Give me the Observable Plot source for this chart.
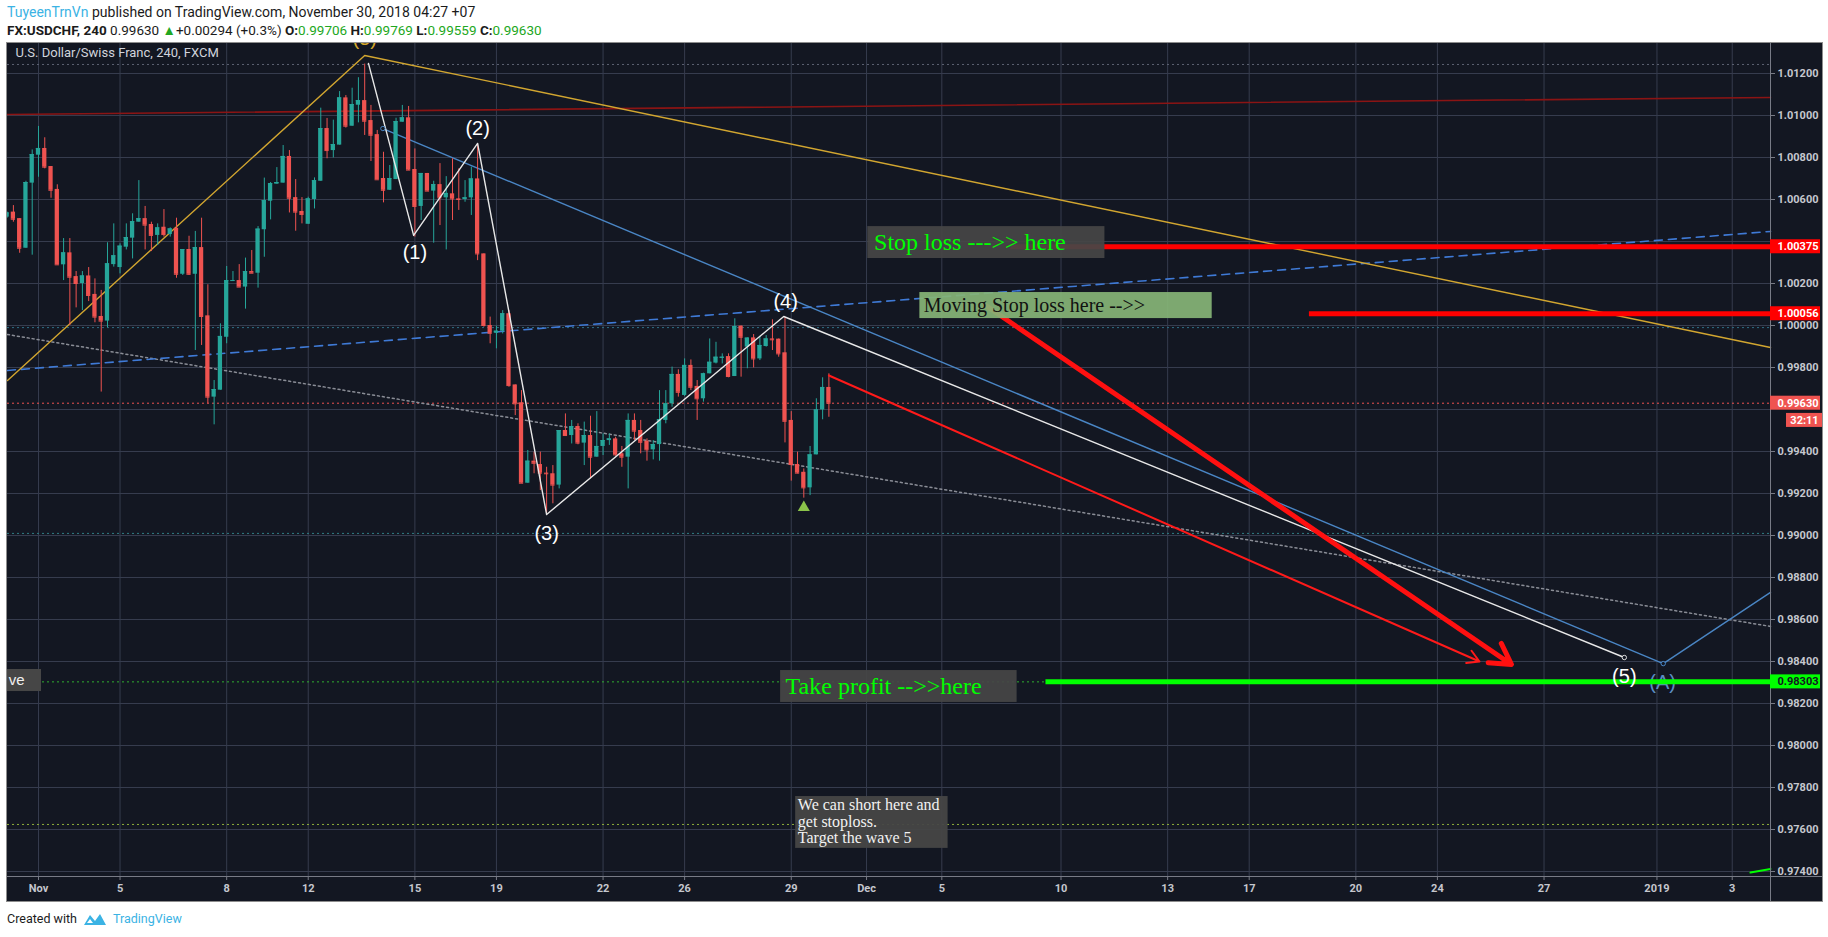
<!DOCTYPE html>
<html><head><meta charset="utf-8">
<script src="https://cdn.jsdelivr.net/npm/d3@7"></script>
<script src="https://cdn.jsdelivr.net/npm/@observablehq/plot@0.6"></script>
<style>
body{margin:0;background:#fff;width:1828px;height:937px;overflow:hidden;position:relative;font-family:Roboto,"Liberation Sans",sans-serif;color:#1b1b1b}
#hdr1{position:absolute;left:7px;top:4px;font-size:14px;white-space:nowrap}
#hdr2{position:absolute;left:7px;top:22px;font-size:13.5px;white-space:nowrap}
#panel{position:absolute;left:6px;top:42px;width:1815px;height:858px;border:1px solid #8d8d8d;background:#131722}
#panel svg{display:block}
#foot{position:absolute;left:7px;top:911px;font-size:12.5px;white-space:nowrap;display:flex;align-items:center;gap:6px}
.g{color:#22a722}
.tv{color:#3bb3e4}
</style></head><body>
<div id="hdr1"></div>
<div id="hdr2"></div>
<div id="panel"></div>
<div id="foot"><span>Created with</span>
<svg width="24" height="14" viewBox="0 0 24 14"><path d="M1 13 L7 3 L12 9 L17 2 L23 13 Z" fill="#3bb3e4"/><path d="M7 7 L10 11 L4 11Z" fill="#fff"/></svg>
<span class="tv">TradingView</span></div>
<script>
// ---------- header values ----------
const author = "TuyeenTrnVn";
const publishedText = " published on TradingView.com, November 30, 2018 04:27 +07";
const symbolText = "FX:USDCHF, 240";
const lastPrice = 0.99630;
const changeText = "+0.00294 (+0.3%)";
const ohlcKeys = ["O", "H", "L", "C"];
const ohlcVals = ["0.99706", "0.99769", "0.99559", "0.99630"];
const chartTitle = "U.S. Dollar/Swiss Franc, 240, FXCM";

// ---------- axis ticks ----------
const xTickIdx = [0, 13, 30, 43, 60, 73, 90, 103, 120, 132, 144, 163, 180, 193, 210, 223, 240, 258, 270];
const xTickLabels = ["Nov", "5", "8", "12", "15", "19", "22", "26", "29", "Dec", "5", "10", "13", "17", "20", "24", "27", "2019", "3"];
const yTicks = [0.974, 0.976, 0.978, 0.980, 0.982, 0.984, 0.986, 0.988, 0.990, 0.992, 0.994, 0.996, 0.998, 1.000, 1.002, 1.004, 1.006, 1.008, 1.010, 1.012];
const yTicksCovered = [1.004, 0.996]; // hidden behind the coloured price labels

// ---------- candles (4h bars, index 0 = Nov 1) ----------
const firstIdx = -5;
const open = [1.00516,1.00540,1.00509,1.00368,1.00678,1.00811,1.00843,1.00757,1.00648,1.00289,1.00346,1.00233,1.00200,1.00236,1.00148,1.00043,1.00021,1.00290,1.00276,1.00373,1.00416,1.00492,1.00509,1.00481,1.00429,1.00468,1.00433,1.00463,1.00244,1.00362,1.00244,1.00371,1.00046,0.99659,0.99692,0.99944,1.00211,1.00214,1.00183,1.00257,1.00249,1.00456,1.00592,1.00673,1.00678,1.00805,1.00609,1.00543,1.00482,1.00600,1.00687,1.00938,1.00833,1.00859,1.01084,1.00949,1.01049,1.01071,1.00976,1.00909,1.00700,1.00644,1.00695,1.00968,1.00989,1.00743,1.00567,1.00724,1.00640,1.00671,1.00608,1.00627,1.00603,1.00600,1.00608,1.00698,1.00341,1.00000,0.99963,0.99973,1.00056,0.99717,0.99632,0.99249,0.99354,0.99338,0.99297,0.99294,0.99240,0.99500,0.99476,0.99519,0.99440,0.99476,0.99373,0.99424,0.99452,0.99460,0.99389,0.99373,0.99548,0.99500,0.99449,0.99408,0.99433,0.99548,0.99627,0.99767,0.99667,0.99810,0.99710,0.99651,0.99770,0.99821,0.99844,0.99852,0.99757,0.99997,0.99897,0.99941,0.99841,0.99900,0.99936,0.99935,0.99870,0.99548,0.99338,0.99301,0.99227,0.99384,0.99598,0.99705];
const high = [1.00540,1.00571,1.00509,1.00687,1.00836,1.00948,1.00894,1.00757,1.00670,1.00414,1.00414,1.00257,1.00257,1.00276,1.00222,1.00167,1.00394,1.00484,1.00389,1.00484,1.00532,1.00690,1.00567,1.00492,1.00484,1.00552,1.00465,1.00511,1.00362,1.00425,1.00448,1.00511,1.00194,0.99738,1.00008,1.00281,1.00257,1.00290,1.00321,1.00357,1.00471,1.00702,1.00681,1.00752,1.00857,1.00833,1.00695,1.00609,1.00611,1.00703,1.01035,1.00986,1.00978,1.01114,1.01095,1.01130,1.01180,1.01245,1.01048,1.00929,1.00825,1.00762,1.00987,1.01048,1.01043,1.00841,1.00724,1.00724,1.00687,1.00771,1.00709,1.00794,1.00746,1.00690,1.00754,1.00865,1.00341,1.00040,0.99997,1.00071,1.00071,0.99717,0.99690,0.99405,0.99397,0.99397,0.99325,0.99333,0.99500,0.99579,0.99548,0.99532,0.99540,0.99568,0.99590,0.99484,0.99484,0.99468,0.99424,0.99579,0.99579,0.99548,0.99460,0.99452,0.99690,0.99690,0.99802,0.99789,0.99841,0.99836,0.99738,0.99773,0.99936,0.99920,0.99865,0.99865,1.00032,0.99998,0.99941,0.99957,0.99948,0.99952,1.00027,0.99936,1.00040,0.99590,0.99397,0.99317,0.99424,0.99651,0.99751,0.99770];
const low = [1.00511,1.00492,1.00344,1.00368,1.00335,1.00706,1.00746,1.00606,1.00289,1.00214,1.00000,1.00084,1.00071,1.00114,1.00013,0.99683,0.99989,1.00278,1.00246,1.00360,1.00317,1.00492,1.00360,1.00352,1.00381,1.00421,1.00421,1.00225,1.00238,1.00238,0.99881,0.99905,0.99627,0.99527,0.99692,0.99913,1.00211,1.00183,1.00078,1.00249,1.00178,1.00325,1.00503,1.00673,1.00678,1.00536,1.00449,1.00484,1.00482,1.00555,1.00687,1.00794,1.00798,1.00859,1.00940,1.00949,1.00965,1.00905,1.00781,1.00694,1.00584,1.00643,1.00695,1.00968,1.00738,1.00421,1.00500,1.00640,1.00392,1.00476,1.00360,1.00500,1.00548,1.00587,1.00524,1.00309,0.99992,0.99913,0.99889,0.99960,0.99706,0.99571,0.99249,0.99249,0.99294,0.99214,0.99103,0.99151,0.99222,0.99476,0.99436,0.99432,0.99333,0.99270,0.99373,0.99381,0.99429,0.99378,0.99325,0.99222,0.99452,0.99389,0.99354,0.99360,0.99354,0.99532,0.99611,0.99659,0.99662,0.99690,0.99548,0.99635,0.99770,0.99817,0.99817,0.99751,0.99757,0.99754,0.99794,0.99798,0.99833,0.99897,0.99881,0.99849,0.99441,0.99259,0.99294,0.99178,0.99190,0.99384,0.99551,0.99563];
const close = [1.00536,1.00506,1.00368,1.00681,1.00814,1.00843,1.00754,1.00644,1.00289,1.00346,1.00230,1.00200,1.00236,1.00143,1.00040,1.00021,1.00294,1.00332,1.00378,1.00419,1.00495,1.00509,1.00478,1.00429,1.00465,1.00433,1.00460,1.00244,1.00362,1.00244,1.00371,1.00043,0.99659,0.99695,0.99948,1.00214,1.00214,1.00183,1.00257,1.00249,1.00459,1.00595,1.00676,1.00681,1.00805,1.00606,1.00540,1.00529,1.00603,1.00690,1.00938,1.00833,1.00862,1.01084,1.00949,1.01052,1.01071,1.00973,1.00906,1.00694,1.00644,1.00700,1.00971,1.00989,1.00740,1.00567,1.00724,1.00640,1.00671,1.00608,1.00629,1.00603,1.00600,1.00608,1.00698,1.00341,1.00000,0.99963,0.99973,1.00056,0.99714,0.99627,0.99249,0.99354,0.99344,0.99297,0.99294,0.99240,0.99500,0.99476,0.99519,0.99440,0.99476,0.99373,0.99424,0.99452,0.99460,0.99384,0.99373,0.99548,0.99497,0.99444,0.99408,0.99433,0.99552,0.99627,0.99767,0.99682,0.99810,0.99706,0.99651,0.99770,0.99825,0.99849,0.99849,0.99757,0.99995,0.99944,0.99940,0.99841,0.99905,0.99936,0.99932,0.99865,0.99544,0.99338,0.99297,0.99227,0.99384,0.99598,0.99705,0.99630];

// ---------- drawings (bar index, price) ----------
const yellowTrend = [{i: -4.94, p: 0.99738}, {i: 52.0, p: 1.01286}, {i: 276.1, p: 0.99895}];
const darkRedTrend = [{i: -4.94, p: 1.01005}, {i: 276.1, p: 1.01086}];
const blueDashed = [{i: -4.94, p: 0.99786}, {i: 276.1, p: 1.00448}];
const grayDotted = [{i: -4.94, p: 0.99957}, {i: 276.1, p: 0.98567}];
const blueChannel = [{i: 54.9, p: 1.00938}, {i: 259.0, p: 0.98390}, {i: 276.1, p: 0.98729}];
const waveLine = [{i: 52.6, p: 1.01248}, {i: 59.8, p: 1.00429}, {i: 70.0, p: 1.00867}, {i: 81.0, p: 0.99100}, {i: 118.8, p: 1.00043}, {i: 252.8, p: 0.98419}];
const hDotted = [
  {p: 1.01243, c: "#5d6272"},
  {p: 0.99990, c: "#2f6f86"},
  {p: 0.99630, c: "#ef5350"},
  {p: 0.99010, c: "#2f7f86"},
  {p: 0.98303, c: "#2fae2f"},
  {p: 0.97624, c: "#8fae3a"}
];
const levels = [
  {p: 1.00375, from: 155.0, c: "#ff0000"},
  {p: 1.00056, from: 202.6, c: "#ff0000"},
  {p: 0.98303, from: 160.6, c: "#00ff00"}
];
const arrowThin = [{i1: 126.0, p1: 0.99762, i2: 229.7, p2: 0.98400}];
const arrowThick = [{i1: 151.0, p1: 1.00095, i2: 234.8, p2: 0.98386}];
const waveLabels = [
  {i: 60.0, p: 1.00348, t: "(1)", c: "#ffffff"},
  {i: 70.0, p: 1.00938, t: "(2)", c: "#ffffff"},
  {i: 81.0, p: 0.99010, t: "(3)", c: "#ffffff"},
  {i: 119.1, p: 1.00114, t: "(4)", c: "#ffffff"},
  {i: 252.8, p: 0.98329, t: "(5)", c: "#ffffff"},
  {i: 52.0, p: 1.01367, t: "(5)", c: "#d4a72c"}
];
const labelA = [{i: 258.9, p: 0.98300, t: "(A)"}];
const notesBig = [
  {x1: 132.2, x2: 170.0, y1: 1.00319, y2: 1.00471, tx: 133.2, ty: 1.00395, t: "Stop loss --->> here", bg: "#464646", c: "#00ff00"},
  {x1: 118.3, x2: 156.0, y1: 0.98205, y2: 0.98357, tx: 119.1, ty: 0.98281, t: "Take profit -->>here", bg: "#464646", c: "#00ff00"}
];
const noteMoving = [{x1: 140.5, x2: 187.1, y1: 1.00033, y2: 1.00157, tx: 141.1, ty: 1.00095, t: "Moving Stop loss here -->>"}];
const noteShort = [{x1: 120.7, x2: 145.0, y1: 0.97510, y2: 0.97757, tx: 121.05, ty: 0.97638, t: "We can short here and\nget stoploss.\nTarget the wave 5"}];
const noteVe = [{x1: -4.94, x2: 0.48, y1: 0.98257, y2: 0.98362, tx: -4.75, ty: 0.98310, t: "ve"}];
const priceLabels = [
  {p: 1.00375, bg: "#ff0000", fg: "#ffffff"},
  {p: 1.00056, bg: "#ff0000", fg: "#ffffff"},
  {p: 0.99630, bg: "#ef5350", fg: "#ffffff"},
  {p: 0.98303, bg: "#00ff00", fg: "#131722"}
];
const countdown = [{p: 0.99548, t: "32:11"}];
const markerTri = [{i: 122, p: 0.99133}];
const smallDots = [{i: 54.9, p: 1.00938, c: "#4a86c5"}, {i: 259.0, p: 0.98390, c: "#4a86c5"}, {i: 252.8, p: 0.98419, c: "#dddddd"}];
const greenStub = [{i: 272.9, p: 0.97395}, {i: 276.1, p: 0.97412}];

// ---------- header ----------
document.getElementById("hdr1").innerHTML = `<span class="tv">${author}</span>${publishedText}`;
document.getElementById("hdr2").innerHTML = `<b>${symbolText}</b> ${lastPrice.toFixed(5)} <span class="g">&#9650;</span>${changeText} ` +
  ohlcKeys.map((k, j) => `<b>${k}:</b><span class="g">${ohlcVals[j]}</span>`).join(" ");

// ---------- chart geometry ----------
const W = 1815, H = 858, mR = 52, mB = 25;
const X0 = -4.94, X1 = 276.1, Y0 = 0.973762, Y1 = 1.013429;
const bx = (X1 - X0) / (W - mR);   // bars per pixel
const by = (Y1 - Y0) / (H - mB);   // price per pixel
const UP = "#26a69a", DOWN = "#ef5350";

const candles = open.map((o, k) => ({i: firstIdx + k, o, h: high[k], l: low[k], c: close[k]}));
const col = d => d.c >= d.o ? UP : DOWN;
const tickMap = new Map(xTickIdx.map((d, k) => [d, xTickLabels[k]]));
const yTickLabels = yTicks.filter(t => !yTicksCovered.some(c => Math.abs(c - t) < 1e-9));

const chart = Plot.plot({
  width: W, height: H,
  marginLeft: 0, marginRight: mR, marginTop: 0, marginBottom: mB,
  x: {type: "linear", domain: [X0, X1]},
  y: {type: "linear", domain: [Y0, Y1]},
  style: {background: "#131722", overflow: "hidden", fontFamily: "Roboto, sans-serif"},
  marks: [
    Plot.gridY(yTicks, {stroke: "#363c4e", strokeOpacity: 1}),
    Plot.gridX(xTickIdx, {stroke: "#363c4e", strokeOpacity: 1}),
    Plot.ruleY(hDotted, {y: "p", stroke: "c", strokeDasharray: "2,3", strokeWidth: 1}),
    Plot.line(darkRedTrend, {x: "i", y: "p", stroke: "#8b1414", strokeWidth: 1.6}),
    Plot.line(grayDotted, {x: "i", y: "p", stroke: "#8a8d96", strokeWidth: 1.5, strokeDasharray: "2,3"}),
    Plot.line(blueDashed, {x: "i", y: "p", stroke: "#3f7ad6", strokeWidth: 1.6, strokeDasharray: "8,6"}),
    Plot.line(yellowTrend, {x: "i", y: "p", stroke: "#d2a630", strokeWidth: 1.4}),
    Plot.line(blueChannel, {x: "i", y: "p", stroke: "#4a86c5", strokeWidth: 1.4}),
    Plot.ruleX(candles, {x: "i", y1: "l", y2: "h", stroke: col, strokeWidth: 1}),
    Plot.rect(candles, {x1: d => d.i - 0.34, x2: d => d.i + 0.34, y1: d => Math.min(d.o, d.c), y2: d => Math.max(d.o, d.c), fill: col}),
    Plot.ruleY(candles, {y: "c", x1: d => d.i - 0.34, x2: d => d.i + 0.34, stroke: col, strokeWidth: 1}),
    Plot.line(waveLine, {x: "i", y: "p", stroke: "#e8e8e8", strokeWidth: 1.4}),
    Plot.dot(smallDots, {x: "i", y: "p", r: 2.2, stroke: "c", fill: "#131722", strokeWidth: 1}),
    Plot.dot(markerTri, {x: "i", y: "p", symbol: "triangle", r: 4.5, fill: "#8bc34a"}),
    Plot.arrow(arrowThin, {x1: "i1", y1: "p1", x2: "i2", y2: "p2", stroke: "#ff1a1a", strokeWidth: 2, headLength: 10}),
    Plot.arrow(arrowThick, {x1: "i1", y1: "p1", x2: "i2", y2: "p2", stroke: "#ff1010", strokeWidth: 5, headLength: 7}),
    Plot.text(labelA, {x: "i", y: "p", text: "t", fill: "#5b8ec4", fontSize: 20, fontFamily: "Liberation Sans"}),
    Plot.ruleY(levels, {y: "p", x1: "from", x2: X1, stroke: "c", strokeWidth: 5}),
    Plot.line(greenStub, {x: "i", y: "p", stroke: "#00ff00", strokeWidth: 2}),
    Plot.rect(notesBig, {x1: "x1", x2: "x2", y1: "y1", y2: "y2", fill: "bg", fillOpacity: 0.93}),
    Plot.text(notesBig, {x: "tx", y: "ty", text: "t", fill: "c", fontSize: 24, textAnchor: "start", fontFamily: "Liberation Serif"}),
    Plot.rect(noteMoving, {x1: "x1", x2: "x2", y1: "y1", y2: "y2", fill: "#85b476", fillOpacity: 0.93}),
    Plot.text(noteMoving, {x: "tx", y: "ty", text: "t", fill: "#111111", fontSize: 20, textAnchor: "start", fontFamily: "Liberation Serif"}),
    Plot.rect(noteShort, {x1: "x1", x2: "x2", y1: "y1", y2: "y2", fill: "#464646", fillOpacity: 0.95}),
    Plot.text(noteShort, {x: "tx", y: "ty", text: "t", fill: "#f2f2f2", fontSize: 16, lineHeight: 1.03, textAnchor: "start", fontFamily: "Liberation Serif"}),
    Plot.rect(noteVe, {x1: "x1", x2: "x2", y1: "y1", y2: "y2", fill: "#464646"}),
    Plot.text(noteVe, {x: "tx", y: "ty", text: "t", fill: "#f0f0f0", fontSize: 15, textAnchor: "start", fontFamily: "Liberation Sans"}),
    Plot.text(waveLabels, {x: "i", y: "p", text: "t", fill: "c", fontSize: 20, fontFamily: "Liberation Sans"}),
    Plot.text([chartTitle], {x: X0 + 8 * bx, y: Y1 - 9 * by, text: d => d, fill: "#d1d4dc", fontSize: 13, textAnchor: "start"}),
    // axes
    Plot.ruleX([X1], {y1: Y0 - mB * by, y2: Y1, stroke: "#787b86"}),
    Plot.ruleY([Y0], {x1: X0, x2: X1 + mR * bx, stroke: "#787b86"}),
    Plot.axisY(yTickLabels, {anchor: "right", tickFormat: d => d.toFixed(5), tickSize: 4, tickPadding: 3, stroke: "#787b86", fill: "#c5c7ce", fontSize: 11, fontWeight: "bold"}),
    Plot.axisX(xTickIdx, {anchor: "bottom", tickFormat: d => tickMap.get(d), tickSize: 4, tickPadding: 4, stroke: "#787b86", fill: "#c5c7ce", fontSize: 11, fontWeight: "bold"}),
    // price labels on axis
    Plot.rect(priceLabels, {x1: X1, x2: X1 + 50 * bx, y1: d => d.p - 7 * by, y2: d => d.p + 7 * by, fill: "bg"}),
    Plot.text(priceLabels, {x: X1 + 7 * bx, y: "p", text: d => d.p.toFixed(5), fill: "fg", fontSize: 11, fontWeight: "bold", textAnchor: "start"}),
    Plot.rect(countdown, {x1: X1 + 16 * bx, x2: X1 + 52 * bx, y1: d => d.p - 7 * by, y2: d => d.p + 7 * by, fill: "#ef5350"}),
    Plot.text(countdown, {x: X1 + 34 * bx, y: "p", text: "t", fill: "#ffffff", fontSize: 11, fontWeight: "bold"})
  ]
});
document.getElementById("panel").appendChild(chart);
</script>
</body></html>
